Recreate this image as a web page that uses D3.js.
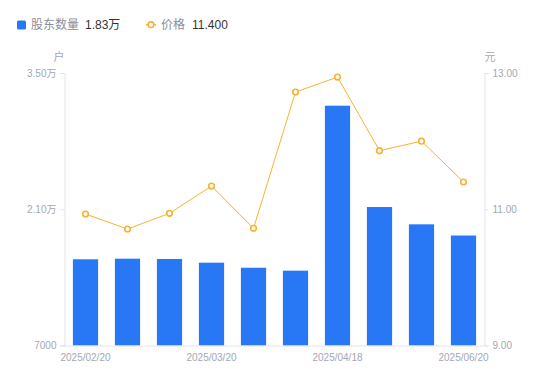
<!DOCTYPE html>
<html><head><meta charset="utf-8">
<script src="https://cdn.jsdelivr.net/npm/d3@7"></script>
<style>
html,body{margin:0;padding:0;background:#fff;}
svg{display:block;font-family:"Liberation Sans","Noto Sans CJK SC",sans-serif;}
</style></head>
<body><svg id="c" width="550" height="381"></svg>
<script>
const categories = ["2025/02/20","2025/03/06","2025/03/13","2025/03/20","2025/03/31","2025/04/10","2025/04/18","2025/05/09","2025/05/30","2025/06/20"];
const holders = [15860,15920,15890,15510,14990,14690,31640,21230,19450,18300];
const prices = [10.93,10.71,10.94,11.34,10.72,12.72,12.94,11.86,12.00,11.40];
const leftTicks = [7000,21000,35000];
const leftTickLabels = ["7000","2.10万","3.50万"];
const rightTicks = [9,11,13];
const rightTickLabels = ["9.00","11.00","13.00"];
const xLabelIdx = [0,3,6,9];
const legendItems = ["股东数量","价格"];
const legendValues = ["1.83万","11.400"];
const units = ["户","元"];

const svg = d3.select("#c");
const L = 64.5, R = 484.5, T = 73, B = 345.5;
const x = d3.scaleBand().domain(categories).range([L,R]).paddingInner(0.4).paddingOuter(0.2);
const yL = d3.scaleLinear().domain([7000,35000]).range([B,T]);
const yR = d3.scaleLinear().domain([9,13]).range([B,T]);
const axisColor = "#e3e4e8", labelColor = "#a4a7b2";

// bars
svg.append("g").selectAll("rect").data(holders).join("rect")
  .attr("x",(d,i)=>x(categories[i])).attr("width",x.bandwidth())
  .attr("y",d=>yL(d)).attr("height",d=>B-yL(d))
  .attr("fill","#2878f6");

// axes
const gl = svg.append("g").attr("transform",`translate(${L},0)`)
  .call(d3.axisLeft(yL).tickValues(leftTicks).tickFormat((d,i)=>leftTickLabels[i]).tickSize(4).tickPadding(4));
const gr = svg.append("g").attr("transform",`translate(${R},0)`)
  .call(d3.axisRight(yR).tickValues(rightTicks).tickFormat((d,i)=>rightTickLabels[i]).tickSize(4).tickPadding(4));
const gx = svg.append("g").attr("transform",`translate(0,${B})`)
  .call(d3.axisBottom(x).tickValues(xLabelIdx.map(i=>categories[i])).tickSize(0).tickPadding(8));
[gl,gr,gx].forEach(g=>{
  g.select(".domain").attr("stroke",axisColor);
  g.selectAll(".tick line").attr("stroke",axisColor);
  g.selectAll("text").attr("fill",labelColor).attr("font-size",10)
   .attr("font-family",'"Liberation Sans","Noto Sans CJK SC",sans-serif');
});
gx.select(".domain").attr("d",`M${L-4},0.5H${R}`);

// units
svg.append("text").attr("x",59).attr("y",61).attr("text-anchor","middle").attr("font-size",11).attr("fill",labelColor).text(units[0]);
svg.append("text").attr("x",490).attr("y",61).attr("text-anchor","middle").attr("font-size",11).attr("fill",labelColor).text(units[1]);

// line
const lc = "#f8b133";
const px = (d,i)=>x(categories[i])+x.bandwidth()/2;
svg.append("path").datum(prices)
  .attr("d",d3.line().x(px).y(d=>yR(d)))
  .attr("fill","none").attr("stroke",lc).attr("stroke-width",1);
svg.append("g").selectAll("circle").data(prices).join("circle")
  .attr("cx",px).attr("cy",d=>yR(d)).attr("r",2.8)
  .attr("fill","#fff").attr("stroke",lc).attr("stroke-width",1.6);

// legend
const lg = svg.append("g");
lg.append("rect").attr("x",17).attr("y",20.5).attr("width",9).attr("height",9).attr("rx",1.5).attr("fill","#2878f6");
lg.append("text").attr("x",31).attr("y",29).attr("font-size",12).attr("fill","#8a8d99").text(legendItems[0]);
lg.append("text").attr("x",85).attr("y",29).attr("font-size",12).attr("fill","#333").text(legendValues[0]);
lg.append("line").attr("x1",146).attr("x2",156).attr("y1",24.7).attr("y2",24.7).attr("stroke",lc).attr("stroke-width",1.5);
lg.append("circle").attr("cx",151).attr("cy",24.7).attr("r",2.8).attr("fill","#fff").attr("stroke",lc).attr("stroke-width",1.6);
lg.append("text").attr("x",161).attr("y",29).attr("font-size",12).attr("fill","#8a8d99").text(legendItems[1]);
lg.append("text").attr("x",192).attr("y",29).attr("font-size",12).attr("fill","#333").text(legendValues[1]);
</script></body></html>
